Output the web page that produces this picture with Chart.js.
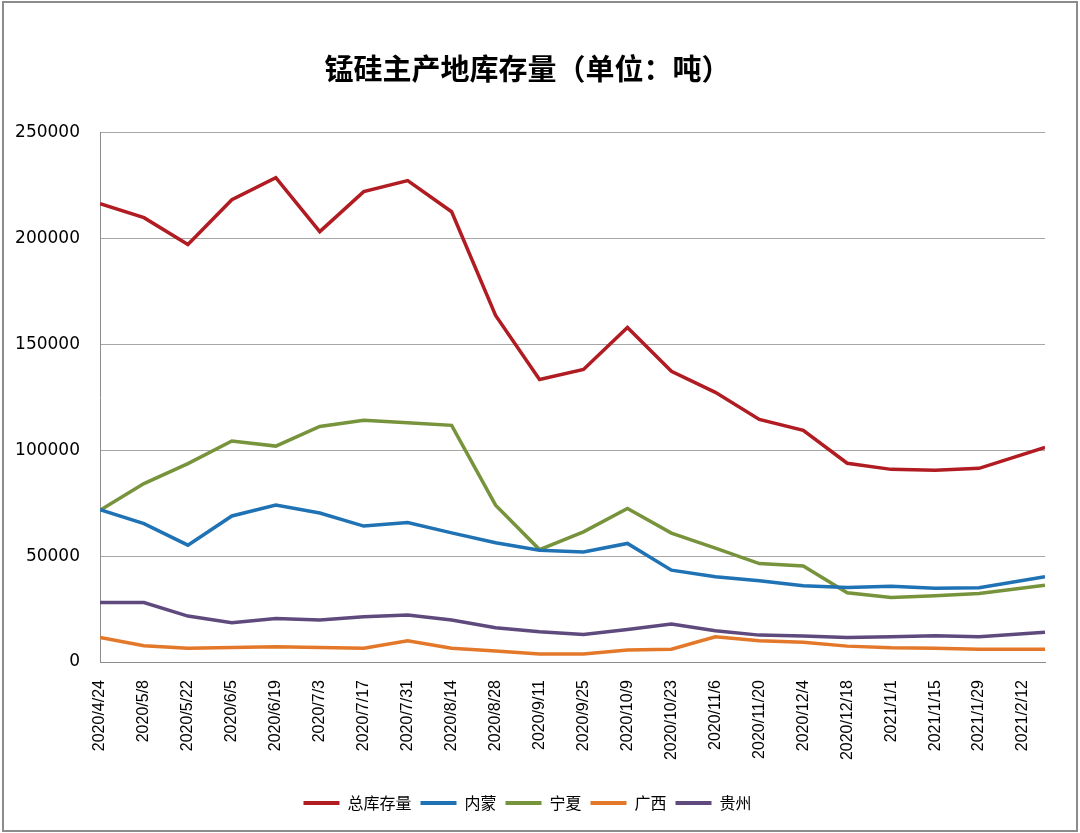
<!DOCTYPE html>
<html>
<head>
<meta charset="utf-8">
<script src="https://cdn.jsdelivr.net/npm/chart.js@4/dist/chart.umd.min.js"></script>
<style>
  html, body { margin: 0; padding: 0; background: #fff; }
  #wrap { position: relative; width: 1080px; height: 833px; }
</style>
</head>
<body>
<div id="wrap"><canvas id="graficoEstoque"></canvas></div>
<script>
const datas = ["2020/4/24", "2020/5/8", "2020/5/22", "2020/6/5", "2020/6/19", "2020/7/3",
  "2020/7/17", "2020/7/31", "2020/8/14", "2020/8/28", "2020/9/11", "2020/9/25",
  "2020/10/9", "2020/10/23", "2020/11/6", "2020/11/20", "2020/12/4", "2020/12/18",
  "2021/1/1", "2021/1/15", "2021/1/29", "2021/2/19"];

const zongKucun = [216500, 209900, 197200, 218400, 228800, 203300, 222200, 227400, 212700, 163700, 133500,
  138200, 158000, 137300, 127400, 114600, 109400, 93900, 91000, 90600, 91500, 101400];
const neimeng = [72000, 65400, 55200, 69000, 74100, 70400, 64200, 65900, 61000, 56300, 52800,
  52000, 56000, 43400, 40300, 38400, 36000, 35200, 35800, 34800, 35100, 40300];
const ningxia = [71700, 84300, 93700, 104400, 102000, 111300, 114200, 113000, 111800, 74100, 53100,
  61500, 72500, 60900, 53800, 46500, 45400, 32700, 30500, 31300, 32400, 36300];
const guangxi = [11600, 7700, 6500, 6900, 7200, 6900, 6500, 10000, 6500, 5200, 3800,
  3800, 5700, 6000, 11900, 10000, 9300, 7500, 6700, 6500, 6000, 6000];
const guizhou = [28100, 28100, 21700, 18600, 20600, 19800, 21400, 22200, 19800, 16200, 14300,
  13000, 15400, 17900, 14800, 12700, 12300, 11600, 11900, 12400, 11900, 14000];

const DIA = 86400000;
function paraUTC(s) {
  const [a, m, d] = s.split("/").map(Number);
  return Date.UTC(a, m - 1, d);
}
const t0 = paraUTC(datas[0]);
const dias = datas.map((s) => Math.round((paraUTC(s) - t0) / DIA));

function serie(valores) {
  return valores.map((v, i) => ({ x: dias[i], y: v }));
}

function formatarData(offset) {
  const d = new Date(t0 + offset * DIA);
  return d.getUTCFullYear() + "/" + (d.getUTCMonth() + 1) + "/" + d.getUTCDate();
}

const moldura = {
  id: "moldura",
  beforeDraw(chart) {
    const ctx = chart.ctx;
    ctx.save();
    ctx.fillStyle = "#fff";
    ctx.fillRect(0, 0, chart.width, chart.height);
    ctx.strokeStyle = "#8c8c8c";
    ctx.lineWidth = 2;
    ctx.strokeRect(3, 2, chart.width - 6, chart.height - 4);
    ctx.restore();
  }
};

const linha = (label, valores, cor) => ({
  label,
  data: serie(valores),
  borderColor: cor,
  backgroundColor: cor,
  borderWidth: 3.5,
  pointRadius: 0,
  tension: 0,
  fill: false
});

new Chart(document.getElementById("graficoEstoque").getContext("2d"), {
  type: "line",
  data: {
    datasets: [
      linha("总库存量", zongKucun, "#b01c22"),
      linha("内蒙", neimeng, "#1f72b4"),
      linha("宁夏", ningxia, "#77933c"),
      linha("广西", guangxi, "#e4782a"),
      linha("贵州", guizhou, "#5f4a7e")
    ]
  },
  options: {
    responsive: true,
    maintainAspectRatio: false,
    animation: false,
    layout: { padding: { left: 10, right: 35, top: 0, bottom: 12 } },
    plugins: {
      title: {
        display: true,
        text: "锰硅主产地库存量（单位：吨）",
        color: "#000",
        font: { family: "'Noto Sans CJK SC'", size: 29, weight: "bold" },
        padding: { top: 52, bottom: 46 }
      },
      legend: {
        position: "bottom",
        labels: {
          color: "#000",
          font: { family: "'Noto Sans CJK SC'", size: 16 },
          boxWidth: 36,
          boxHeight: 4,
          padding: 9,
          generateLabels: (chart) =>
            Chart.defaults.plugins.legend.labels.generateLabels(chart).map((l) => ({
              ...l,
              lineWidth: 0,
              fillStyle: l.strokeStyle
            }))
        }
      },
      tooltip: { enabled: false }
    },
    scales: {
      x: {
        type: "linear",
        min: 0,
        max: dias[dias.length - 1],
        grid: { display: false },
        border: { display: true, color: "#8c8c8c", width: 1 },
        afterBuildTicks: (scale) => {
          scale.ticks = scale.ticks.filter((t) => t.value % 14 === 0);
        },
        afterFit: (scale) => { scale.height = 124; },
        ticks: {
          stepSize: 14,
          autoSkip: false,
          minRotation: 90,
          maxRotation: 90,
          padding: 10,
          color: "#000",
          font: { family: "'Liberation Sans'", size: 16 },
          callback: (v) => formatarData(v)
        }
      },
      y: {
        min: 0,
        max: 250000,
        grid: { color: "#a6a6a6", lineWidth: 1, drawTicks: false },
        border: { display: true, color: "#8c8c8c", width: 1 },
        afterFit: (scale) => { scale.width = 90; },
        ticks: {
          stepSize: 50000,
          padding: 20,
          color: "#000",
          font: { family: "'DejaVu Sans'", size: 17 },
          callback: (v) => String(v)
        }
      }
    }
  },
  plugins: [moldura]
});
</script>
</body>
</html>
